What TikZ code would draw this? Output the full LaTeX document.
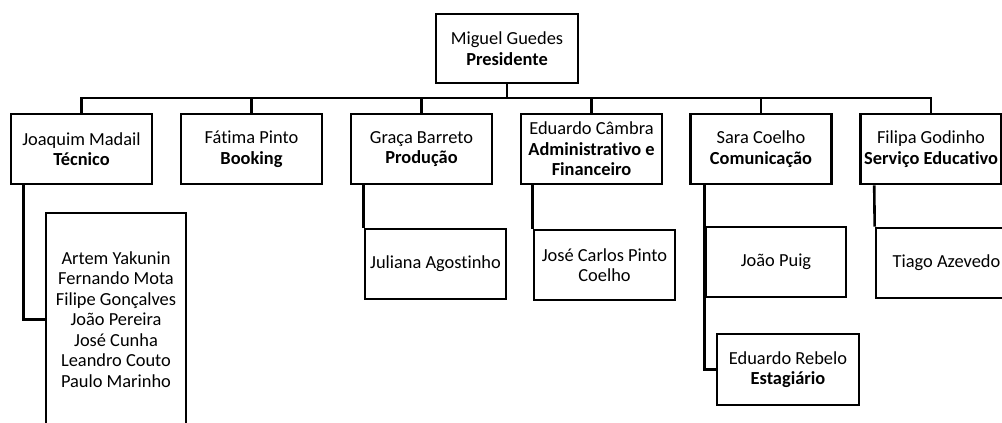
\documentclass[tikz,border=0pt]{standalone}
\usepackage{fontspec}
\setmainfont[RawFeature={-liga;-clig;-calt;-dlig}]{Carlito}
\newcommand\nti{t\kern0pt i}
\begin{document}
\begin{tikzpicture}[x=1pt,y=-1pt,
  box/.style={draw, line width=2.6pt, minimum width=141pt, minimum height=70pt, align=center, inner sep=1pt, font=\fontsize{18.4}{20.5}\selectfont},
  conn/.style={line width=2.6pt}]
\useasboundingbox (0,0) rectangle (1002,423);
\clip (0,0) rectangle (1002,423);
\coordinate (busy) at (0,98);
% top
\node[box, minimum width=142pt, minimum height=69pt] (pres) at (507,48.5) {Miguel Guedes\\\textbf{Presidente}};
% level 1
\node[box] (jm) at (81.5,149) {Joaquim Madail\\\textbf{Técnico}};
\node[box] (fp) at (251.5,149) {Fátima Pinto\\\textbf{Booking}};
\node[box] (gb) at (421.5,149) {Graça Barreto\\\textbf{Produção}};
\node[box] (ec) at (591.5,149) {Eduardo Câmbra\\\textbf{Administra\nti vo e}\\\textbf{Financeiro}};
\node[box] (sc) at (761,149) {Sara Coelho\\\textbf{Comunicação}};
\node[box] (fg) at (931,149) {Filipa Godinho\\\textbf{Serviço Educa\nti vo}};
% level 2
\node[box, minimum width=140pt, minimum height=213pt] (tec) at (116,319.5) {Artem Yakunin\\Fernando Mota\\Filipe Gonçalves\\João Pereira\\José Cunha\\Leandro Couto\\Paulo Marinho};
\node[box] (ja) at (435.5,264) {Juliana Agos\nti nho};
\node[box] (jc) at (604.5,265) {José Carlos Pinto\\Coelho};
\node[box, minimum width=140pt] (jp) at (776,262) {João Puig};
\node[box, minimum width=142pt, minimum height=71pt] (er) at (788,369.5) {Eduardo Rebelo\\\textbf{Estagiário}};
\node[box] (ta) at (946.5,263) {Tiago Azevedo};
% connectors
\draw[conn] (pres.south) -- (pres.south |- busy);
\draw[conn] (jm.north) -- (jm.north |- busy) -- (fg.north |- busy) -- (fg.north);
\foreach \n in {fp,gb,ec,sc} \draw[conn] (\n.north) -- (\n.north |- busy);
\draw[conn] ([xshift=14pt]jm.south west) |- (tec.west);
\draw[conn] ([xshift=14pt]gb.south west) -- (ja.north west);
\draw[conn] ([xshift=13pt]ec.south west) -- (jc.north west);
\draw[conn] ([xshift=15pt]sc.south west) |- (er.west);
\draw[conn] ([xshift=15pt]fg.south west) -- (ta.north west);
\end{tikzpicture}
\end{document}
